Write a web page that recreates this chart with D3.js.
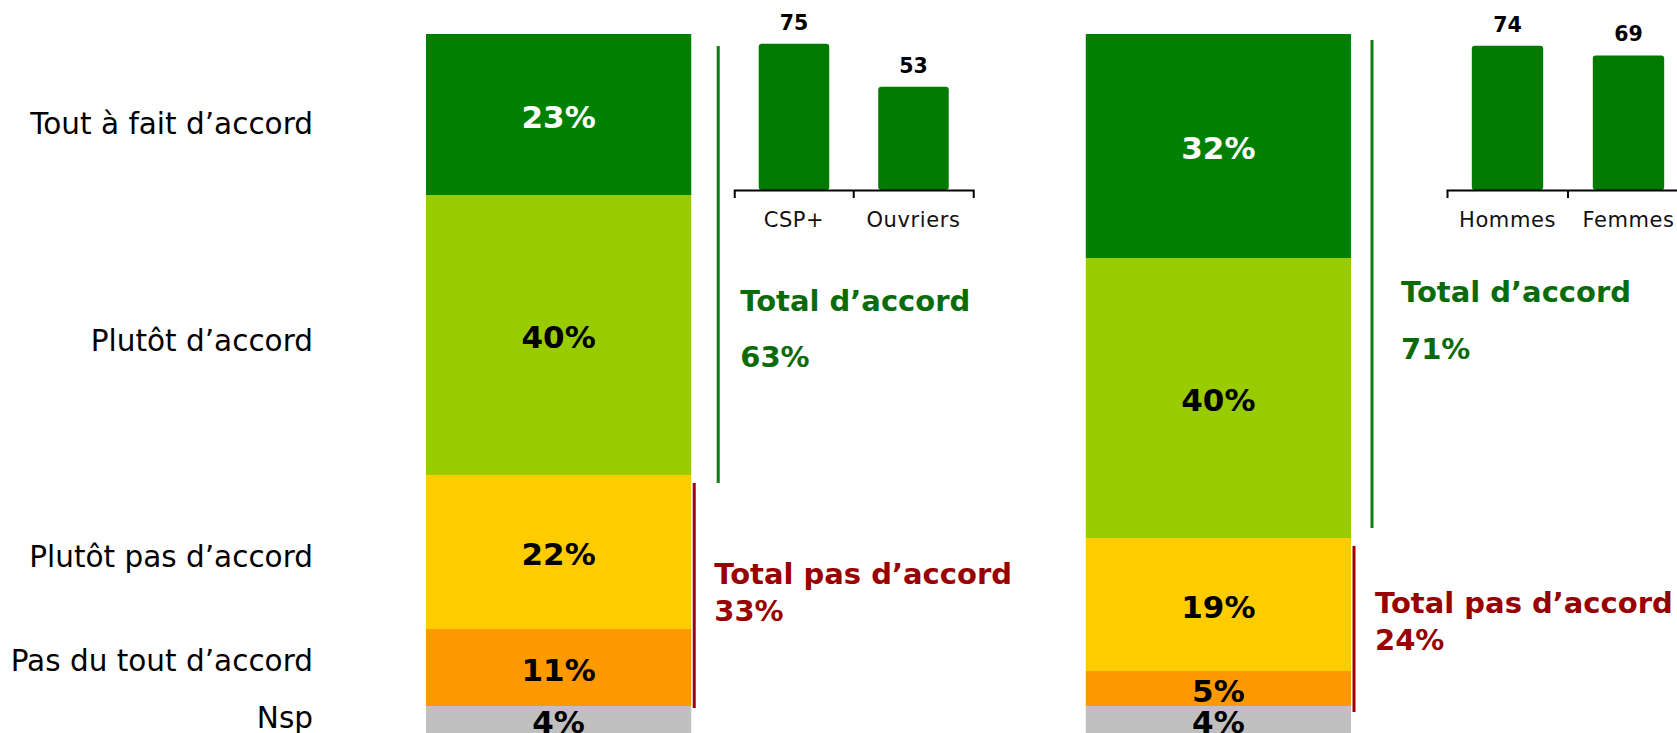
<!DOCTYPE html>
<html>
<head>
<meta charset="utf-8">
<script src="https://cdn.jsdelivr.net/npm/d3@7"></script>
<style>
  body { margin: 0; background: #fff; }
  svg { display: block; font-family: "DejaVu Sans", Verdana, sans-serif; }
</style>
</head>
<body>
<div id="chart"></div>
<script>
// data
const categories = ["Tout à fait d’accord", "Plutôt d’accord", "Plutôt pas d’accord", "Pas du tout d’accord", "Nsp"];
const panels = ["p1", "p2"];
const valuesP1 = [23, 40, 22, 11, 4];
const valuesP2 = [32, 40, 19, 5, 4];
const totalAgree = [63, 71];
const totalDisagree = [33, 24];
const subCatsP1 = ["CSP+", "Ouvriers"];
const subValsP1 = [75, 53];
const subCatsP2 = ["Hommes", "Femmes"];
const subValsP2 = [74, 69];

const colors = ["#008000", "#99cc00", "#ffcc00", "#ff9900", "#c0c0c0"];
const labelColors = ["#fff", "#000", "#000", "#000", "#000"];
// small vertical nudges of the left category labels
const catNudge = [9, 5, 4, -7, -3];

// layout, per panel (offsets from the right edge of the stacked bar)
const layout = [
    { greenX: 27, greenY: [46, 483], agreeTextX: 49, agreeY: [311, 367],
      redX: 3, redY: [483, 708], disTextX: 23, disY: [584, 621], mini: [43, 282] },
    { greenX: 21, greenY: [40, 528], agreeTextX: 50, agreeY: [302, 359],
      redX: 3, redY: [546, 712], disTextX: 24, disY: [613, 650], mini: [96, 338] }
];

const width = 1677, height = 733;

const svg = d3.select("#chart").append("svg")
    .attr("width", width)
    .attr("height", height);

// scales
// ------------------------------------------------------
let yScale = d3.scaleLinear().domain([0, 100]).range([34, 734]);

let xPanel = d3.scaleBand()
    .domain(panels)
    .range([426, 1351])
    .paddingInner(0.598)
    .paddingOuter(0);

let miniY = d3.scaleLinear().domain([0, 100]).range([190, -5]);

function stack(values) {
    let acc = 0;
    return values.map((v, i) => {
        let d = { cat: categories[i], value: v, i: i, y0: acc, y1: acc + v };
        acc += v;
        return d;
    });
}

const panelData = [
    { key: "p1", seg: stack(valuesP1), agree: totalAgree[0], dis: totalDisagree[0], subCats: subCatsP1, subVals: subValsP1 },
    { key: "p2", seg: stack(valuesP2), agree: totalAgree[1], dis: totalDisagree[1], subCats: subCatsP2, subVals: subValsP2 }
];

// category labels (left)
// ------------------------------------------------------
svg.append("g").selectAll("text")
    .data(panelData[0].seg)
    .enter()
    .append("text")
        .attr("x", 313)
        .attr("y", d => yScale((d.y0 + d.y1) / 2) + catNudge[d.i])
        .attr("dy", "0.36em")
        .attr("text-anchor", "end")
        .attr("font-size", 29.5)
        .attr("fill", "#000")
        .text(d => d.cat);

// panels
// ------------------------------------------------------
panelData.forEach((p, pi) => {
    let g = svg.append("g").attr("class", "panel");
    let x0 = xPanel(p.key), bw = xPanel.bandwidth(), xr = x0 + bw;
    let L = layout[pi];

    g.selectAll(".seg")
        .data(p.seg)
        .enter()
        .append("rect")
            .attr("class", "seg")
            .attr("x", x0)
            .attr("y", d => yScale(d.y0))
            .attr("width", bw)
            .attr("height", d => yScale(d.y1) - yScale(d.y0))
            .attr("fill", d => colors[d.i]);

    g.selectAll(".segLabel")
        .data(p.seg)
        .enter()
        .append("text")
            .attr("class", "segLabel")
            .attr("x", x0 + bw / 2)
            .attr("y", d => yScale((d.y0 + d.y1) / 2) + 2)
            .attr("dy", "0.36em")
            .attr("text-anchor", "middle")
            .attr("font-size", 31)
            .attr("font-weight", "bold")
            .attr("fill", d => labelColors[d.i])
            .text(d => d.value + "%");

    // agree bracket
    g.append("line")
        .attr("x1", xr + L.greenX).attr("x2", xr + L.greenX)
        .attr("y1", L.greenY[0]).attr("y2", L.greenY[1])
        .attr("stroke", "#137a13")
        .attr("stroke-width", 3);
    g.append("text")
        .attr("x", xr + L.agreeTextX).attr("y", L.agreeY[0])
        .attr("font-size", 29).attr("font-weight", "bold")
        .attr("fill", "#0b6b0b")
        .text("Total d’accord");
    g.append("text")
        .attr("x", xr + L.agreeTextX).attr("y", L.agreeY[1])
        .attr("font-size", 29).attr("font-weight", "bold")
        .attr("fill", "#0b6b0b")
        .text(p.agree + "%");

    // disagree bracket
    g.append("line")
        .attr("x1", xr + L.redX).attr("x2", xr + L.redX)
        .attr("y1", L.redY[0]).attr("y2", L.redY[1])
        .attr("stroke", "#a00000")
        .attr("stroke-width", 3);
    g.append("text")
        .attr("x", xr + L.disTextX).attr("y", L.disY[0])
        .attr("font-size", 29).attr("font-weight", "bold")
        .attr("fill", "#990000")
        .text("Total pas d’accord");
    g.append("text")
        .attr("x", xr + L.disTextX).attr("y", L.disY[1])
        .attr("font-size", 29).attr("font-weight", "bold")
        .attr("fill", "#990000")
        .text(p.dis + "%");

    // mini bar chart
    let miniX = d3.scaleBand()
        .domain(p.subCats)
        .range([xr + L.mini[0], xr + L.mini[1]])
        .paddingInner(0.41)
        .paddingOuter(0.205);

    let mini = p.subCats.map((c, i) => ({ cat: c, value: p.subVals[i] }));

    g.selectAll(".miniBar")
        .data(mini)
        .enter()
        .append("rect")
            .attr("class", "miniBar")
            .attr("x", d => miniX(d.cat))
            .attr("y", d => miniY(d.value))
            .attr("width", miniX.bandwidth())
            .attr("height", d => miniY(0) - miniY(d.value))
            .attr("rx", 3)
            .attr("fill", "#007a00");

    g.selectAll(".miniVal")
        .data(mini)
        .enter()
        .append("text")
            .attr("class", "miniVal")
            .attr("x", d => miniX(d.cat) + miniX.bandwidth() / 2)
            .attr("y", d => miniY(d.value) - 14)
            .attr("text-anchor", "middle")
            .attr("font-size", 20.5)
            .attr("font-weight", "bold")
            .attr("fill", "#000")
            .text(d => d.value);

    let axis = g.append("g")
        .attr("transform", `translate(0, ${miniY(0)})`)
        .call(d3.axisBottom(miniX).tickSize(0).tickSizeOuter(8).tickPadding(22));
    axis.select(".domain").attr("stroke", "#000").attr("stroke-width", 2);
    axis.selectAll(".tick text")
        .attr("font-size", 21)
        .attr("font-family", "DejaVu Sans, Verdana, sans-serif")
        .attr("letter-spacing", 0.6)
        .attr("fill", "#111");
    // separator tick between the two categories
    let sep = miniX.range()[0] + miniX.step();
    axis.append("line")
        .attr("x1", sep).attr("x2", sep)
        .attr("y1", 0).attr("y2", 8)
        .attr("stroke", "#000")
        .attr("stroke-width", 2);
});
</script>
</body>
</html>
